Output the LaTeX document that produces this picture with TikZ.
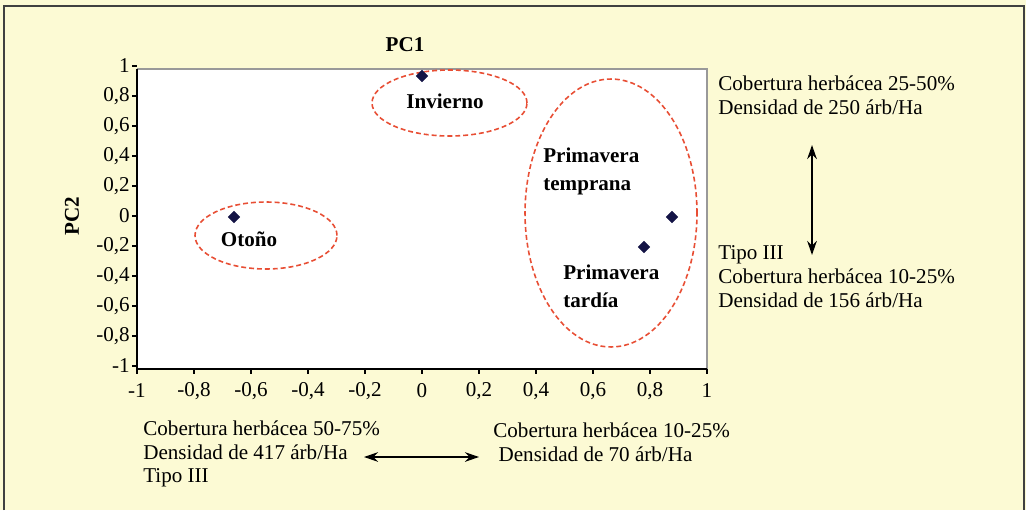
\documentclass[tikz,border=0pt]{standalone}
\usepackage{fontspec}
\setmainfont{Liberation Serif}
\usepackage{tikz}
\usetikzlibrary{arrows.meta,shapes.geometric,positioning}
\definecolor{fondo}{RGB}{252,250,212}
\definecolor{rojo}{RGB}{232,78,52}
\definecolor{marino}{RGB}{20,20,70}
\tikzstyle{punto} = [diamond, fill=marino, draw=marino, inner sep=0pt, minimum size=6.5pt]
\tikzstyle{grupo} = [rojo, line width=0.9pt, dash pattern=on 2.8pt off 1.7pt]
\tikzstyle{etiq}  = [font=\fontsize{12}{16}\selectfont\bfseries, align=left, inner sep=0pt]
\tikzstyle{nota}  = [font=\fontsize{12}{13.6}\selectfont, align=left, inner sep=0pt]
\tikzstyle{eje}   = [black, line width=0.7pt]
\tikzstyle{flecha} = [black, line width=0.8pt, {Stealth[length=8pt,width=5.5pt]}-{Stealth[length=8pt,width=5.5pt]}]

\begin{document}
\begin{tikzpicture}[x=0.02cm, y=-0.02cm]
		\useasboundingbox (0,0) rectangle (1026,510);
		\fill[fondo] (0,0) rectangle (1026,510);
		\draw[black!75, line width=1pt] (4,510) -- (4,6) -- (1024,6) -- (1024,510);

		% area del grafico
		\fill[white] (137,69) rectangle (707,369);
		\draw[black!40, line width=0.6pt] (137,69) -- (707,69) -- (707,369);
		\draw[eje] (137,69) -- (137,369) -- (707,369);

		\foreach \v/\t in {1/1, 0.8/{0,8}, 0.6/{0,6}, 0.4/{0,4}, 0.2/{0,2}, 0/0,
				-0.2/{-0,2}, -0.4/{-0,4}, -0.6/{-0,6}, -0.8/{-0,8}, -1/-1} {
			\draw[eje] (132,216-150*\v) -- (137,216-150*\v);
			\node[nota, anchor=east] at (130,216-150*\v) {\t};
		}
		\foreach \v/\t in {-1/-1, -0.8/{-0,8}, -0.6/{-0,6}, -0.4/{-0,4}, -0.2/{-0,2}, 0/0,
				0.2/{0,2}, 0.4/{0,4}, 0.6/{0,6}, 0.8/{0,8}, 1/1} {
			\draw[eje] (422+285*\v,369) -- (422+285*\v,374);
			\node[nota] at (422+285*\v,391) {\t};
		}

		\node[etiq] (pc1) at (405,45) {PC1};
		\node[etiq, rotate=90] (pc2) at (72,216) {PC2};

		% grupos
		\draw[grupo] (449.5,103) ellipse [x radius=1.55cm, y radius=0.66cm];
		\draw[grupo] (266,235.5) ellipse [x radius=1.42cm, y radius=0.67cm];
		\draw[grupo] (611,213) ellipse [x radius=1.72cm, y radius=2.68cm];

		\begin{scope}[every node/.style={punto}]
			\node (otono) at (234,217) {};
			\node (invierno) at (422,76) {};
			\node (primT) at (672,217) {};
			\node (primTa) at (644,247) {};
		\end{scope}

		\node[etiq] (lInv) at (445,101) {Invierno};
		\node[etiq] (lOto) at (249,239) {Otoño};
		\node[etiq, anchor=west] (lPrimT) at (543,171) {Primavera\\temprana};
		\node[etiq, anchor=west] (lPrimTa) at (563,286) {Primavera\\tardía};

		% descripciones
		\node[nota, anchor=west] (dArriba) at (718,95) {Cobertura herbácea 25-50\%\\Densidad de 250 árb/Ha};
		\node[nota, anchor=west] (dAbajo) at (718,277) {Tipo III\\Cobertura herbácea 10-25\%\\Densidad de 156 árb/Ha};
		\node[nota, anchor=west] (dIzq) at (143,454) {Cobertura herbácea 50-75\%\\Densidad de 417 árb/Ha\\Tipo III};
		\node[nota, anchor=west] (dDer) at (493,442) {Cobertura herbácea 10-25\%\\\hspace{3pt}Densidad de 70 árb/Ha};

		\coordinate (fArriba) at (812,145);
		\coordinate (fAbajo) at (812,255);
		\coordinate (fIzq) at (364,457);
		\coordinate (fDer) at (479,457);
		\draw[flecha] (fArriba) -- (fAbajo);
		\draw[flecha] (fIzq) -- (fDer);
	\end{tikzpicture}
\end{document}
